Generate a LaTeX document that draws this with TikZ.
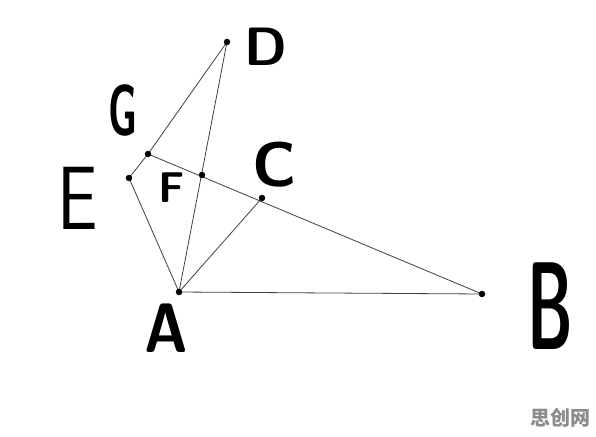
\documentclass[tikz,border=0pt]{standalone}
\usepackage{fontspec}
\newfontfamily\cjk{Noto Sans CJK SC}
\usepackage{tikz}
\tikzset{
  lbl/.style={font=\sffamily\bfseries\fontsize{#1pt}{#1pt}\selectfont, inner sep=0pt},
  thinlbl/.style={font=\sffamily\fontsize{#1pt}{#1pt}\selectfont, inner sep=0pt}
}
\begin{document}
\begin{tikzpicture}[x=1pt,y=-1pt]
			\useasboundingbox (0,0) rectangle (596,436);
			\coordinate (A) at (179,292);
			\coordinate (B) at (482,294);
			\coordinate (C) at (262,198);
			\coordinate (D) at (227,42);
			\coordinate (G) at (148,154);
			\coordinate (E) at (129,178);
			\coordinate (F) at (202,175);
			\draw[line width=0.8pt,black!75] (A)--(B) (A)--(C) (A)--(D) (A)--(E) (E)--(G) (G)--(D) (G)--(B);
			\foreach \p in {A,B,C,D,G,E,F} \filldraw (\p) circle (3);
			\node[lbl=54] (labD) at (266,47) {D};
			\node[lbl=72,xscale=0.55] (labG) at (123,110) {G};
			\node[lbl=63] (labC) at (275,165) {C};
			\node[lbl=43] (labF) at (172,188) {F};
			\node[thinlbl=90,xscale=0.8] (labE) at (78,198) {E};
			\node[lbl=70,xscale=0.85] (labA) at (166,328) {A};
			\node[lbl=125,xscale=0.5] (labB) at (550,306) {B};
			\node[font=\cjk\bfseries\fontsize{20pt}{20pt}\selectfont, text=black!45, inner sep=0pt] (mark) at (560,418) {思创网};
		\end{tikzpicture}
\end{document}
